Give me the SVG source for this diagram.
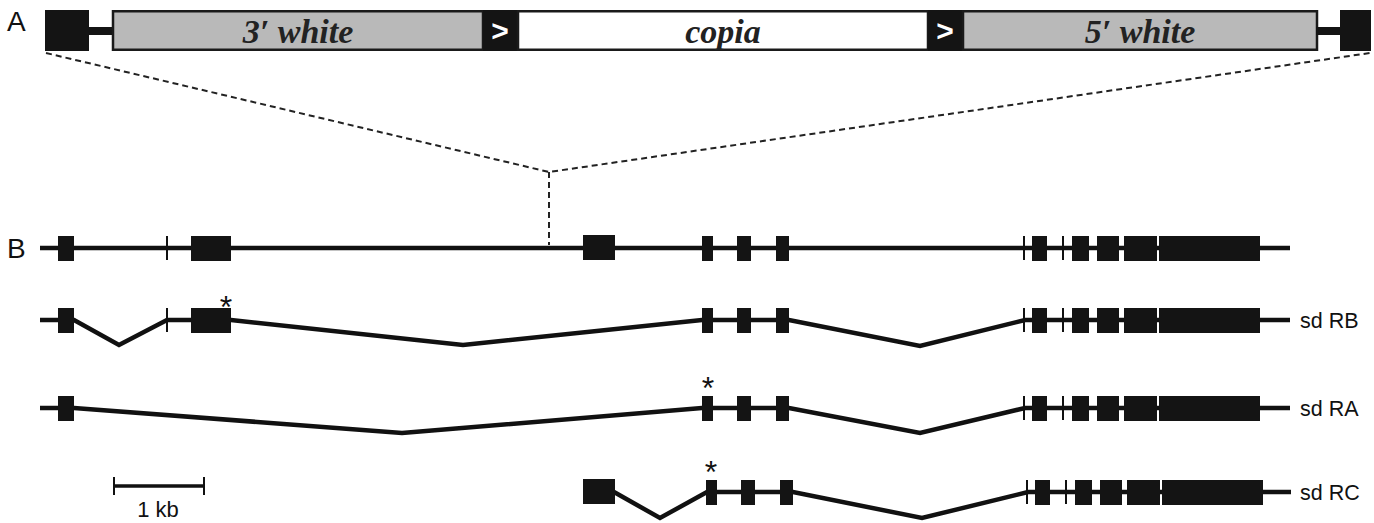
<svg xmlns="http://www.w3.org/2000/svg" width="1374" height="523" viewBox="0 0 1374 523">
<style>
.lbl{font-family:"Liberation Sans",Arial,sans-serif;fill:#111;}
.panel{font-size:28px;}
.name{font-size:21.5px;}
.ast{font-family:"Liberation Sans",Arial,sans-serif;font-size:32px;fill:#111;text-anchor:middle;}
.gene{font-family:"Liberation Serif","Times New Roman",serif;font-style:italic;font-weight:bold;font-size:34px;fill:#222;text-anchor:middle;}
.ltrch{font-family:"Liberation Sans",Arial,sans-serif;font-weight:bold;font-size:30px;fill:#fff;text-anchor:middle;}
.blk{fill:#141414;}
.gray{fill:#b9b9b9;stroke:#1a1a1a;stroke-width:2.5;}
.wht{fill:#fff;stroke:#1a1a1a;stroke-width:2.5;}
.ln{fill:none;stroke:#111;stroke-width:4.5;stroke-linejoin:miter;}
.tick{stroke:#111;stroke-width:2;}
.ex{fill:#141414;}
.dash{fill:none;stroke:#222;stroke-width:2;stroke-dasharray:6 4;}
</style>

<text class="lbl panel" x="7" y="31">A</text>
<text class="lbl panel" x="7" y="258">B</text>

<g id="insert">
  <rect class="blk" x="45" y="10" width="44" height="41"/>
  <rect class="blk" x="88" y="27" width="26" height="8"/>
  <rect class="gray" x="113" y="11.25" width="370" height="38.5"/>
  <text class="gene" x="298" y="43">3′ white</text>
  <rect class="blk" x="483" y="10" width="35" height="41"/>
  <text class="ltrch" x="500" y="41">&gt;</text>
  <rect class="wht" x="518" y="11.25" width="410" height="38.5"/>
  <text class="gene" x="723" y="43">copia</text>
  <rect class="blk" x="928" y="10" width="35" height="41"/>
  <text class="ltrch" x="945" y="41">&gt;</text>
  <rect class="gray" x="963" y="11.25" width="354" height="38.5"/>
  <text class="gene" x="1140" y="43">5′ white</text>
  <rect class="blk" x="1316" y="27" width="25" height="8"/>
  <rect class="blk" x="1340" y="10" width="31" height="41"/>
</g>

<g id="connectors">
  <path class="dash" d="M46 53 L549 172 L1370 53"/>
  <path class="dash" d="M549 172 L549 245"/>
</g>

<g id="genomic">
  <path class="ln" d="M40 248 H1290"/>
  <line class="tick" x1="167" y1="236" x2="167" y2="260"/>
  <line class="tick" x1="1024" y1="236" x2="1024" y2="260"/>
  <line class="tick" x1="1063" y1="236" x2="1063" y2="260"/>
  <rect class="ex" x="58" y="236" width="16" height="25"/>
  <rect class="ex" x="191" y="236" width="40" height="25"/>
  <rect class="ex" x="583" y="235" width="32" height="25"/>
  <rect class="ex" x="702" y="236" width="11" height="25"/>
  <rect class="ex" x="737" y="236" width="14" height="25"/>
  <rect class="ex" x="776" y="236" width="13" height="25"/>
  <rect class="ex" x="1032" y="236" width="15" height="25"/>
  <rect class="ex" x="1072" y="236" width="17" height="25"/>
  <rect class="ex" x="1097" y="236" width="22" height="25"/>
  <rect class="ex" x="1124" y="236" width="33" height="25"/>
  <rect class="ex" x="1159" y="236" width="101" height="25"/>
</g>

<g id="sdRB">
  <path class="ln" d="M40 320 H74 L119 345 L167 320 H231 L463 345 L702 320 H789 L920 346 L1025 320 H1290"/>
  <line class="tick" x1="167" y1="308" x2="167" y2="332"/>
  <line class="tick" x1="1024" y1="308" x2="1024" y2="332"/>
  <line class="tick" x1="1063" y1="308" x2="1063" y2="332"/>
  <rect class="ex" x="58" y="308" width="16" height="25"/>
  <rect class="ex" x="191" y="308" width="40" height="25"/>
  <rect class="ex" x="702" y="308" width="11" height="25"/>
  <rect class="ex" x="737" y="308" width="14" height="25"/>
  <rect class="ex" x="776" y="308" width="13" height="25"/>
  <rect class="ex" x="1032" y="308" width="15" height="25"/>
  <rect class="ex" x="1072" y="308" width="17" height="25"/>
  <rect class="ex" x="1097" y="308" width="22" height="25"/>
  <rect class="ex" x="1124" y="308" width="33" height="25"/>
  <rect class="ex" x="1159" y="308" width="101" height="25"/>
  <text class="ast" x="226" y="318">*</text>
  <text class="lbl name" x="1300" y="328">sd RB</text>
</g>

<g id="sdRA">
  <path class="ln" d="M40 408 H74 L402 433 L702 408 H789 L920 433 L1025 408 H1290"/>
  <line class="tick" x1="1024" y1="396" x2="1024" y2="420"/>
  <line class="tick" x1="1063" y1="396" x2="1063" y2="420"/>
  <rect class="ex" x="58" y="396" width="16" height="25"/>
  <rect class="ex" x="702" y="396" width="11" height="25"/>
  <rect class="ex" x="737" y="396" width="14" height="25"/>
  <rect class="ex" x="776" y="396" width="13" height="25"/>
  <rect class="ex" x="1032" y="396" width="15" height="25"/>
  <rect class="ex" x="1072" y="396" width="17" height="25"/>
  <rect class="ex" x="1097" y="396" width="22" height="25"/>
  <rect class="ex" x="1124" y="396" width="33" height="25"/>
  <rect class="ex" x="1159" y="396" width="101" height="25"/>
  <text class="ast" x="708" y="399">*</text>
  <text class="lbl name" x="1300" y="416">sd RA</text>
</g>

<g id="sdRC">
  <path class="ln" d="M614 492 L660 518 L707 492 H793 L922 518 L1028 492 H1291"/>
  <line class="tick" x1="1027" y1="480" x2="1027" y2="504"/>
  <line class="tick" x1="1066" y1="480" x2="1066" y2="504"/>
  <rect class="ex" x="583" y="479" width="32" height="25"/>
  <rect class="ex" x="706" y="480" width="11" height="25"/>
  <rect class="ex" x="741" y="480" width="14" height="25"/>
  <rect class="ex" x="780" y="480" width="13" height="25"/>
  <rect class="ex" x="1035" y="480" width="15" height="25"/>
  <rect class="ex" x="1075" y="480" width="17" height="25"/>
  <rect class="ex" x="1100" y="480" width="22" height="25"/>
  <rect class="ex" x="1127" y="480" width="33" height="25"/>
  <rect class="ex" x="1162" y="480" width="101" height="25"/>
  <text class="ast" x="711" y="483">*</text>
  <text class="lbl name" x="1300" y="500">sd RC</text>
</g>

<g id="scalebar">
  <line x1="113" y1="486" x2="205" y2="486" stroke="#111" stroke-width="3.5"/>
  <line class="tick" x1="114" y1="477" x2="114" y2="495"/>
  <line class="tick" x1="204" y1="477" x2="204" y2="495"/>
  <text class="lbl" x="158" y="517" text-anchor="middle" style="font-size:22px">1 kb</text>
</g>
</svg>
